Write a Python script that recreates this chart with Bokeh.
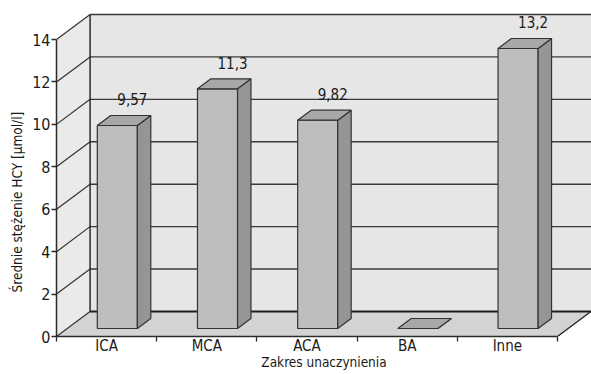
from bokeh.plotting import figure
from bokeh.models import FixedTicker, Range1d, Title
from bokeh.embed import file_html
from bokeh.resources import INLINE
from bokeh.core.properties import value

# --- data -------------------------------------------------------------
categories = ["ICA", "MCA", "ACA", "BA", "Inne"]
values = [9.57, 11.3, 9.82, 0.0, 13.2]
y_ticks = [0, 2, 4, 6, 8, 10, 12, 14]
y_max = 14

# --- 3D box geometry (x in category slots, y in value units) ----------
DEPTH_X = 0.335          # horizontal shift of the back plane
DEPTH_Y = 1.18           # vertical shift of the back plane
BAR_LEFT, BAR_RIGHT = 0.30, 0.70   # bar front face inside its slot
BAR_D0, BAR_D1 = 0.32, 0.72        # bar depth as fraction of the box

FONT = "DejaVu Sans Condensed, Liberation Sans Narrow, Roboto Condensed, Roboto"
INK = "#2b2b2b"

n = len(categories)

p = figure(width=591, height=374,
           x_range=Range1d(0, n + 0.34), y_range=Range1d(0, 15.84),
           output_backend="svg", toolbar_location=None,
           min_border_left=56, min_border_bottom=38,
           min_border_top=0, min_border_right=0)
p.outline_line_color = None
p.grid.visible = False
p.background_fill_color = "white"
p.border_fill_color = "white"

# walls and floor
p.patch([0, 0, DEPTH_X, DEPTH_X], [0, y_max, y_max + DEPTH_Y, DEPTH_Y],
        fill_color="#eaeaea", line_color=None)
p.patch([DEPTH_X, n + DEPTH_X, n + DEPTH_X, DEPTH_X],
        [DEPTH_Y, DEPTH_Y, y_max + DEPTH_Y, y_max + DEPTH_Y],
        fill_color="#e6e6e6", line_color=None)
p.patch([0, n, n + DEPTH_X, DEPTH_X], [0, 0, DEPTH_Y, DEPTH_Y],
        fill_color="#d3d3d3", line_color=None)

# gridlines on the back wall and the side wall
grid_t = [t for t in y_ticks if t > 0]
p.multi_line([[DEPTH_X, n + DEPTH_X] for t in grid_t],
             [[t + DEPTH_Y, t + DEPTH_Y] for t in grid_t],
             line_color="#3a3a3a", line_width=1.4)
p.multi_line([[0, DEPTH_X] for t in y_ticks],
             [[t, t + DEPTH_Y] for t in y_ticks],
             line_color="#333333", line_width=1.2)
# box edges
p.line([DEPTH_X, n + DEPTH_X], [DEPTH_Y, DEPTH_Y], line_color="#1e1e1e", line_width=2)
p.line([DEPTH_X, DEPTH_X], [DEPTH_Y, y_max + DEPTH_Y], line_color="#1e1e1e", line_width=1.4)
p.line([n, n + DEPTH_X], [0, DEPTH_Y], line_color="#1e1e1e", line_width=1.3)

# bars: front, side and top faces
bdx = (BAR_D1 - BAR_D0) * DEPTH_X
bdy = (BAR_D1 - BAR_D0) * DEPTH_Y
front_xs, front_ys, side_xs, side_ys, top_xs, top_ys = [], [], [], [], [], []
for i, v in enumerate(values):
    x0 = i + BAR_LEFT + BAR_D0 * DEPTH_X
    x1 = i + BAR_RIGHT + BAR_D0 * DEPTH_X
    y0 = BAR_D0 * DEPTH_Y
    front_xs.append([x0, x1, x1, x0])
    front_ys.append([y0, y0, y0 + v, y0 + v])
    side_xs.append([x1, x1 + bdx, x1 + bdx, x1])
    side_ys.append([y0, y0 + bdy, y0 + bdy + v, y0 + v])
    top_xs.append([x0, x1, x1 + bdx, x0 + bdx])
    top_ys.append([y0 + v, y0 + v, y0 + v + bdy, y0 + v + bdy])

p.patches(front_xs, front_ys, fill_color="#bebebe", line_color="#333333", line_width=1.2)
p.patches(side_xs, side_ys, fill_color="#959595", line_color="#333333", line_width=1.2)
p.patches(top_xs, top_ys, fill_color="#a8a8a8", line_color="#333333", line_width=1.2)

# value labels above the bars
lab_x, lab_y, lab_t = [], [], []
for i, v in enumerate(values):
    if v > 0:
        lab_x.append(i + (BAR_LEFT + BAR_RIGHT) / 2 + BAR_D0 * DEPTH_X + 0.15)
        lab_y.append(v + BAR_D0 * DEPTH_Y + 1.23)
        lab_t.append(f"{v:g}".replace(".", ","))
p.text(lab_x, lab_y, text=lab_t, text_align="center", text_baseline="middle",
       text_font=value(FONT), text_font_size="15px", text_color="#1a1a1a")

# axes
yax = p.yaxis[0]
yax.ticker = FixedTicker(ticks=y_ticks)
yax.bounds = (0, y_max)
yax.major_tick_out = 5
yax.major_tick_in = 0
yax.minor_tick_out = 0
yax.minor_tick_in = 0
yax.axis_line_color = INK
yax.axis_line_width = 1.5
yax.major_tick_line_color = INK
yax.major_tick_line_width = 1.3
yax.major_label_standoff = 1
yax.major_label_text_font = FONT
yax.major_label_text_font_size = "16px"
yax.major_label_text_color = "#1a1a1a"

# y title, centred along the value axis rather than the whole frame
y_title = Title(text="Średnie stężenie HCY [µmol/l]", align="left", offset=44,
                standoff=10, text_font=FONT, text_font_size="13.5px",
                text_font_style="normal", text_color="#1a1a1a")
p.add_layout(y_title, "left")

xax = p.xaxis[0]
centers = [i + 0.5 for i in range(n)]
xax.ticker = FixedTicker(ticks=centers, minor_ticks=list(range(n + 1)))
xax.major_label_overrides = {c: cat for c, cat in zip(centers, categories)}
xax.bounds = (0, n)
xax.major_tick_out = 0
xax.major_tick_in = 0
xax.minor_tick_out = 5
xax.minor_tick_in = 0
xax.minor_tick_line_color = INK
xax.minor_tick_line_width = 1.3
xax.axis_line_color = INK
xax.axis_line_width = 1.5
xax.major_label_standoff = -5
xax.major_label_text_font = FONT
xax.major_label_text_font_size = "15px"
xax.major_label_text_color = "#1a1a1a"
xax.axis_label = "Zakres unaczynienia"
xax.axis_label_text_font = FONT
xax.axis_label_text_font_size = "13.5px"
xax.axis_label_text_font_style = "normal"
xax.axis_label_text_color = "#1a1a1a"
xax.axis_label_standoff = -4

open("out.html", "w").write(file_html(p, INLINE))
